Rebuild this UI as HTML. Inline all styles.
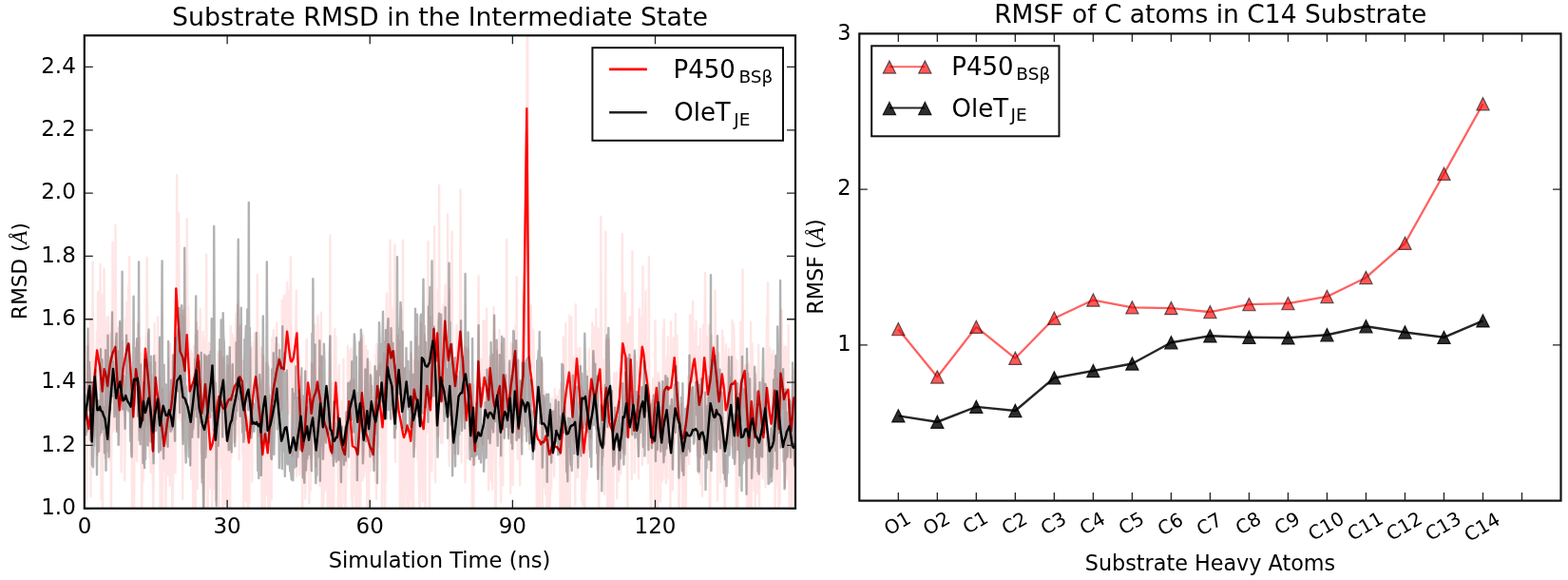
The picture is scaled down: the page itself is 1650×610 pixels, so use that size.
<!DOCTYPE html><html><head><meta charset="utf-8"><title>RMSD and RMSF plots</title><style>html,body{margin:0;padding:0;background:#fff;}svg{display:block;}</style></head><body><svg width="1650" height="610" viewBox="0 0 1650 610" font-family="'DejaVu Sans', 'Liberation Sans', sans-serif"><rect width="1650" height="610" fill="#fff"/><defs><clipPath id="cl"><rect x="88.8" y="37.3" width="748.2" height="497.40000000000003"/></clipPath><clipPath id="cr"><rect x="904.3" y="35.4" width="738.2" height="491.20000000000005"/></clipPath></defs><g clip-path="url(#cl)" fill="none" stroke-linejoin="round"><polyline points="89.0,459.6 89.5,389.9 90.0,460.9 90.5,448.6 91.0,525.7 91.5,364.2 92.0,413.5 92.5,364.4 93.0,403.4 93.5,375.3 94.0,462.8 94.5,402.3 95.0,335.0 95.5,522.1 96.0,370.8 96.5,349.6 97.0,395.4 97.5,275.5 98.0,350.5 98.5,453.6 99.0,376.1 99.5,459.3 100.0,439.9 100.5,430.5 101.0,390.0 101.5,366.7 102.0,348.7 102.5,478.7 103.0,306.6 103.5,325.7 104.0,342.5 104.5,409.3 105.0,392.8 105.5,277.8 106.0,370.9 106.5,524.8 107.0,363.8 107.5,310.3 108.0,541.9 108.5,351.6 109.0,375.7 109.5,282.4 110.0,332.5 110.5,481.6 111.0,385.3 111.5,334.0 112.0,415.0 112.5,433.2 113.0,395.2 113.5,435.0 114.0,333.2 114.5,464.7 115.0,349.3 115.5,483.6 116.0,351.1 116.5,390.6 117.0,573.3 117.5,377.2 118.0,454.5 118.5,255.0 119.0,312.4 119.5,453.4 120.0,447.8 120.5,312.3 121.0,362.2 121.5,236.9 122.0,359.6 122.6,451.9 123.1,399.0 123.6,344.4 124.1,361.1 124.6,415.8 125.1,418.1 125.6,432.2 126.1,467.3 126.6,340.1 127.1,416.9 127.6,496.2 128.1,441.1 128.6,360.9 129.1,359.7 129.6,399.8 130.1,435.8 130.6,380.9 131.1,505.3 131.6,474.9 132.1,335.6 132.6,408.4 133.1,349.1 133.6,317.5 134.1,333.3 134.6,363.8 135.1,300.5 135.6,335.0 136.1,269.9 136.6,342.1 137.1,362.5 137.6,456.5 138.1,394.6 138.6,419.3 139.1,562.7 139.6,435.1 140.1,447.1 140.6,458.9 141.1,545.6 141.6,441.3 142.1,408.7 142.6,392.8 143.1,480.3 143.6,359.4 144.1,485.3 144.6,413.6 145.1,340.0 145.6,454.2 146.1,443.4 146.6,355.4 147.1,440.9 147.6,438.5 148.1,407.3 148.6,372.2 149.1,596.2 149.6,495.1 150.1,506.7 150.6,507.0 151.1,480.3 151.6,466.0 152.1,372.9 152.6,448.5 153.1,369.6 153.6,353.7 154.1,433.7 154.6,271.0 155.1,323.5 155.6,375.9 156.1,447.9 156.6,411.2 157.1,481.3 157.6,403.7 158.1,381.8 158.6,497.0 159.1,459.6 159.6,393.9 160.1,496.2 160.6,450.0 161.1,536.2 161.6,514.5 162.1,480.8 162.6,340.4 163.1,446.7 163.6,447.8 164.1,446.1 164.6,416.6 165.1,372.6 165.6,400.0 166.1,333.5 166.6,406.1 167.1,356.4 167.6,410.4 168.1,397.3 168.6,540.3 169.1,448.5 169.6,448.4 170.1,465.3 170.6,608.8 171.1,408.6 171.6,488.4 172.1,494.9 172.6,482.8 173.1,480.5 173.6,438.1 174.1,551.1 174.6,522.6 175.1,433.6 175.6,438.5 176.1,471.8 176.6,483.5 177.1,500.2 177.6,441.7 178.1,377.1 178.6,511.1 179.1,361.7 179.6,384.9 180.1,459.0 180.6,380.8 181.1,524.6 181.6,539.3 182.1,502.3 182.6,432.1 183.1,415.9 183.6,415.5 184.1,353.5 184.6,497.3 185.1,305.5 185.6,423.2 186.1,184.2 186.6,354.4 187.1,416.4 187.6,439.8 188.1,224.4 188.6,356.0 189.2,332.2 189.7,337.7 190.2,442.6 190.7,430.1 191.2,440.6 191.7,350.5 192.2,525.1 192.7,326.1 193.2,416.6 193.7,440.7 194.2,364.6 194.7,334.5 195.2,357.8 195.7,324.4 196.2,356.8 196.7,230.1 197.2,315.7 197.7,378.2 198.2,322.2 198.7,379.9 199.2,392.4 199.7,470.8 200.2,428.2 200.7,368.2 201.2,503.5 201.7,371.7 202.2,385.0 202.7,387.4 203.2,563.1 203.7,407.9 204.2,364.0 204.7,451.4 205.2,387.5 205.7,563.5 206.2,352.5 206.7,432.4 207.2,339.5 207.7,513.7 208.2,344.8 208.7,399.4 209.2,346.8 209.7,460.9 210.2,446.1 210.7,325.1 211.2,476.9 211.7,474.1 212.2,446.7 212.7,502.6 213.2,369.1 213.7,348.9 214.2,471.0 214.7,541.3 215.2,356.2 215.7,357.2 216.2,369.0 216.7,358.8 217.2,267.6 217.7,438.0 218.2,533.0 218.7,541.8 219.2,393.6 219.7,500.1 220.2,360.4 220.7,458.2 221.2,513.3 221.7,424.8 222.2,384.8 222.7,440.0 223.2,555.2 223.7,442.7 224.2,394.3 224.7,496.3 225.2,513.9 225.7,401.0 226.2,441.9 226.7,526.9 227.2,470.1 227.7,493.6 228.2,416.9 228.7,423.7 229.2,369.9 229.7,385.0 230.2,534.8 230.7,396.1 231.2,373.2 231.7,394.1 232.2,369.7 232.7,462.4 233.2,492.8 233.7,376.9 234.2,503.5 234.7,584.5 235.2,376.0 235.7,481.2 236.2,450.8 236.7,530.3 237.2,524.4 237.7,511.5 238.2,452.8 238.7,404.4 239.2,592.8 239.7,384.5 240.2,510.2 240.7,501.1 241.2,386.1 241.7,427.5 242.2,533.5 242.7,343.0 243.2,482.3 243.7,403.6 244.2,404.9 244.7,351.3 245.2,447.3 245.7,362.7 246.2,465.2 246.7,356.0 247.2,463.9 247.7,433.2 248.2,330.2 248.7,385.5 249.2,395.7 249.7,320.1 250.2,379.0 250.7,458.0 251.2,359.7 251.7,483.2 252.2,344.6 252.7,342.4 253.2,439.7 253.7,444.6 254.2,390.0 254.7,402.2 255.2,477.6 255.8,379.2 256.3,563.9 256.8,451.1 257.3,453.6 257.8,448.7 258.3,415.2 258.8,527.5 259.3,409.4 259.8,460.0 260.3,498.7 260.8,555.3 261.3,544.8 261.8,438.1 262.3,528.5 262.8,451.0 263.3,395.0 263.8,390.8 264.3,366.1 264.8,454.4 265.3,506.8 265.8,371.6 266.3,400.2 266.8,360.0 267.3,409.8 267.8,350.8 268.3,360.6 268.8,364.4 269.3,374.1 269.8,381.0 270.3,393.2 270.8,289.2 271.3,366.8 271.8,458.2 272.3,349.9 272.8,437.9 273.3,384.7 273.8,447.9 274.3,465.8 274.8,365.4 275.3,485.1 275.8,561.1 276.3,523.1 276.8,494.9 277.3,374.4 277.8,453.7 278.3,413.1 278.8,534.6 279.3,440.6 279.8,425.3 280.3,382.0 280.8,520.0 281.3,436.1 281.8,451.5 282.3,541.3 282.8,463.2 283.3,474.3 283.8,618.4 284.3,409.4 284.8,406.9 285.3,464.4 285.8,525.4 286.3,355.8 286.8,403.0 287.3,364.1 287.8,347.2 288.3,444.9 288.8,362.3 289.3,418.5 289.8,402.8 290.3,401.9 290.8,393.2 291.3,339.8 291.8,380.7 292.3,396.9 292.8,403.4 293.3,362.4 293.8,446.2 294.3,417.8 294.8,386.1 295.3,425.3 295.8,394.1 296.3,431.2 296.8,315.7 297.3,331.0 297.8,363.1 298.3,390.6 298.8,310.9 299.3,362.5 299.8,382.3 300.3,353.0 300.8,347.0 301.3,308.1 301.8,357.1 302.3,297.0 302.8,419.9 303.3,325.9 303.8,435.6 304.3,306.2 304.8,394.7 305.3,378.3 305.8,270.5 306.3,325.4 306.8,459.8 307.3,403.6 307.8,479.5 308.3,368.2 308.8,382.0 309.3,397.5 309.8,419.0 310.3,393.5 310.8,416.2 311.3,331.6 311.8,305.5 312.3,501.0 312.8,374.7 313.3,406.1 313.8,361.3 314.3,469.7 314.8,422.7 315.3,499.0 315.8,396.0 316.3,438.2 316.8,466.2 317.3,440.1 317.8,484.7 318.3,582.2 318.8,434.3 319.3,448.0 319.8,472.8 320.3,405.0 320.8,390.1 321.3,524.5 321.8,494.3 322.4,359.1 322.9,356.6 323.4,469.1 323.9,497.3 324.4,456.1 324.9,446.8 325.4,529.3 325.9,416.3 326.4,516.2 326.9,515.1 327.4,382.1 327.9,480.5 328.4,435.6 328.9,394.2 329.4,383.3 329.9,448.0 330.4,418.0 330.9,478.3 331.4,341.7 331.9,377.9 332.4,490.7 332.9,407.3 333.4,368.4 333.9,378.6 334.4,332.3 334.9,346.1 335.4,450.1 335.9,420.7 336.4,511.1 336.9,406.0 337.4,414.8 337.9,328.8 338.4,423.7 338.9,585.0 339.4,483.8 339.9,430.4 340.4,531.4 340.9,505.4 341.4,471.1 341.9,426.4 342.4,460.7 342.9,515.5 343.4,409.8 343.9,494.0 344.4,493.1 344.9,559.3 345.4,518.0 345.9,426.0 346.4,582.7 346.9,471.8 347.4,247.1 347.9,498.2 348.4,457.7 348.9,553.1 349.4,402.4 349.9,406.2 350.4,441.9 350.9,574.9 351.4,513.9 351.9,378.6 352.4,346.1 352.9,396.9 353.4,353.8 353.9,457.2 354.4,430.7 354.9,423.4 355.4,405.8 355.9,548.2 356.4,394.1 356.9,384.0 357.4,537.6 357.9,556.5 358.4,439.8 358.9,510.3 359.4,637.5 359.9,422.2 360.4,459.0 360.9,505.3 361.4,377.7 361.9,465.6 362.4,529.1 362.9,466.3 363.4,545.1 363.9,519.9 364.4,435.4 364.9,492.3 365.4,478.6 365.9,363.7 366.4,388.6 366.9,388.2 367.4,400.6 367.9,404.8 368.4,368.4 368.9,444.8 369.4,366.7 369.9,525.7 370.4,480.3 370.9,566.4 371.4,494.0 371.9,440.9 372.4,399.6 372.9,520.9 373.4,473.0 373.9,500.4 374.4,528.9 374.9,562.6 375.4,472.5 375.9,601.4 376.4,465.5 376.9,466.7 377.4,510.1 377.9,528.8 378.4,549.0 378.9,358.8 379.4,531.8 379.9,356.7 380.4,389.6 380.9,447.0 381.4,505.1 381.9,371.3 382.4,352.4 382.9,501.0 383.4,459.5 383.9,388.7 384.4,427.4 384.9,363.6 385.4,496.4 385.9,426.6 386.4,550.9 386.9,368.8 387.4,515.9 387.9,625.2 388.4,474.8 389.0,477.3 389.5,380.7 390.0,494.9 390.5,472.6 391.0,439.3 391.5,397.3 392.0,479.4 392.5,417.9 393.0,439.5 393.5,485.4 394.0,451.5 394.5,446.5 395.0,507.1 395.5,373.0 396.0,525.3 396.5,361.7 397.0,366.3 397.5,419.4 398.0,469.4 398.5,433.5 399.0,394.3 399.5,385.3 400.0,412.0 400.5,382.3 401.0,477.7 401.5,426.9 402.0,557.4 402.5,401.4 403.0,431.0 403.5,466.0 404.0,371.9 404.5,384.8 405.0,620.5 405.5,405.6 406.0,507.3 406.5,344.5 407.0,308.7 407.5,418.2 408.0,369.6 408.5,388.2 409.0,348.2 409.5,335.3 410.0,317.5 410.5,252.8 411.0,314.6 411.5,441.8 412.0,358.2 412.5,324.3 413.0,337.6 413.5,441.2 414.0,425.6 414.5,411.0 415.0,385.2 415.5,257.4 416.0,485.8 416.5,371.2 417.0,370.0 417.5,378.0 418.0,388.1 418.5,352.2 419.0,398.0 419.5,385.3 420.0,402.6 420.5,358.3 421.0,578.7 421.5,379.7 422.0,464.1 422.5,468.1 423.0,520.8 423.5,588.9 424.0,252.8 424.5,506.9 425.0,429.1 425.5,564.9 426.0,386.8 426.5,438.5 427.0,471.2 427.5,503.1 428.0,507.7 428.5,532.4 429.0,490.1 429.5,451.4 430.0,466.8 430.5,559.3 431.0,477.8 431.5,524.5 432.0,448.7 432.5,371.2 433.0,415.8 433.5,466.8 434.0,555.0 434.5,532.1 435.0,545.3 435.5,378.9 436.0,470.3 436.5,409.5 437.0,459.5 437.5,410.4 438.0,353.9 438.5,469.6 439.0,446.3 439.5,482.2 440.0,380.1 440.5,502.3 441.0,512.4 441.5,533.2 442.0,537.0 442.5,409.7 443.0,339.9 443.5,513.8 444.0,393.8 444.5,430.7 445.0,527.3 445.5,466.5 446.0,461.0 446.5,490.4 447.0,351.9 447.5,567.1 448.0,399.8 448.5,397.2 449.0,455.4 449.5,402.6 450.0,367.7 450.5,254.0 451.0,394.5 451.5,384.6 452.0,572.6 452.5,356.6 453.0,333.0 453.5,365.0 454.0,355.1 454.5,494.9 455.0,389.0 455.6,428.1 456.1,404.3 456.6,317.7 457.1,238.0 457.6,373.0 458.1,507.3 458.6,380.6 459.1,361.1 459.6,415.5 460.1,414.8 460.6,304.6 461.1,458.8 461.6,457.1 462.1,194.9 462.6,343.4 463.1,326.1 463.6,392.0 464.1,465.8 464.6,443.4 465.1,356.3 465.6,465.9 466.1,328.2 466.6,320.3 467.1,360.1 467.6,324.8 468.1,316.8 468.6,299.9 469.1,425.4 469.6,309.4 470.1,386.6 470.6,421.0 471.1,225.5 471.6,388.3 472.1,445.9 472.6,489.9 473.1,439.7 473.6,313.9 474.1,304.9 474.6,335.3 475.1,320.5 475.6,243.7 476.1,383.2 476.6,366.2 477.1,466.2 477.6,464.4 478.1,390.8 478.6,422.6 479.1,477.3 479.6,376.3 480.1,413.7 480.6,341.7 481.1,384.2 481.6,400.4 482.1,365.5 482.6,380.4 483.1,411.2 483.6,387.4 484.1,322.0 484.6,199.4 485.1,310.6 485.6,486.4 486.1,397.5 486.6,405.5 487.1,371.9 487.6,422.5 488.1,434.8 488.6,365.4 489.1,403.2 489.6,507.3 490.1,365.7 490.6,382.0 491.1,475.9 491.6,388.7 492.1,482.0 492.6,368.0 493.1,433.7 493.6,472.1 494.1,438.8 494.6,467.9 495.1,403.3 495.6,409.4 496.1,424.2 496.6,473.6 497.1,658.4 497.6,440.3 498.1,590.9 498.6,444.4 499.1,404.7 499.6,446.8 500.1,487.8 500.6,464.7 501.1,449.6 501.6,466.9 502.1,456.3 502.6,469.9 503.1,341.9 503.6,290.3 504.1,349.3 504.6,419.9 505.1,405.9 505.6,428.9 506.1,393.8 506.6,377.7 507.1,404.7 507.6,463.8 508.1,467.3 508.6,337.1 509.1,423.5 509.6,422.6 510.1,338.2 510.6,350.7 511.1,375.3 511.6,436.2 512.1,324.5 512.6,389.9 513.1,384.8 513.6,427.5 514.1,515.4 514.6,504.1 515.1,378.7 515.6,374.7 516.1,412.2 516.6,481.4 517.1,505.2 517.6,428.1 518.1,514.5 518.6,367.0 519.1,361.2 519.6,323.0 520.1,377.5 520.6,467.4 521.1,487.8 521.6,641.9 522.1,464.5 522.7,432.0 523.2,368.6 523.7,381.9 524.2,381.0 524.7,398.3 525.2,374.8 525.7,347.0 526.2,492.1 526.7,453.0 527.2,528.3 527.7,361.4 528.2,373.2 528.7,390.4 529.2,510.4 529.7,403.9 530.2,422.7 530.7,397.3 531.2,418.1 531.7,379.3 532.2,440.4 532.7,371.4 533.2,251.7 533.7,443.8 534.2,433.3 534.7,458.3 535.2,382.9 535.7,443.1 536.2,402.1 536.7,443.3 537.2,518.5 537.7,360.6 538.2,478.6 538.7,361.9 539.2,369.8 539.7,509.9 540.2,453.9 540.7,418.4 541.2,437.2 541.7,463.0 542.2,343.0 542.7,402.6 543.2,372.2 543.7,291.5 544.2,398.8 544.7,482.8 545.2,437.8 545.7,407.6 546.2,437.9 546.7,471.0 547.2,510.4 547.7,414.7 548.2,398.9 548.7,432.2 549.2,464.2 549.7,371.2 550.2,309.1 550.7,388.6 551.2,322.5 551.7,288.9 552.2,457.0 552.7,225.7 553.2,247.4 553.7,138.8 554.2,190.1 554.7,21.0 555.2,26.0 555.7,265.7 556.2,359.5 556.7,355.3 557.2,472.2 557.7,400.9 558.2,350.4 558.7,321.1 559.2,361.5 559.7,386.9 560.2,352.5 560.7,363.0 561.2,346.7 561.7,370.6 562.2,438.3 562.7,419.9 563.2,430.0 563.7,428.4 564.2,438.7 564.7,511.6 565.2,610.7 565.7,508.1 566.2,608.1 566.7,457.2 567.2,462.4 567.7,586.1 568.2,426.6 568.7,418.8 569.2,460.2 569.7,386.9 570.2,379.7 570.7,552.7 571.2,409.5 571.7,437.4 572.2,437.8 572.7,411.6 573.2,513.1 573.7,503.2 574.2,520.3 574.7,515.9 575.2,469.5 575.7,570.4 576.2,543.6 576.7,437.1 577.2,477.9 577.7,451.9 578.2,613.2 578.7,532.6 579.2,515.0 579.7,470.8 580.2,513.8 580.7,419.2 581.2,472.1 581.7,465.8 582.2,465.4 582.7,426.8 583.2,501.0 583.7,408.9 584.2,441.1 584.7,459.0 585.2,466.5 585.7,439.8 586.2,416.6 586.7,420.5 587.2,449.8 587.7,425.2 588.2,466.3 588.7,410.2 589.3,476.3 589.8,624.3 590.3,402.8 590.8,459.3 591.3,546.0 591.8,469.2 592.3,513.5 592.8,354.6 593.3,409.1 593.8,546.3 594.3,396.4 594.8,451.3 595.3,339.9 595.8,491.1 596.3,574.6 596.8,403.0 597.3,428.8 597.8,430.2 598.3,553.9 598.8,373.8 599.3,331.8 599.8,542.7 600.3,354.4 600.8,457.4 601.3,333.4 601.8,402.6 602.3,443.7 602.8,374.9 603.3,397.3 603.8,464.4 604.3,376.8 604.8,444.8 605.3,531.2 605.8,320.3 606.3,414.0 606.8,430.3 607.3,366.7 607.8,502.3 608.3,492.6 608.8,436.8 609.3,444.8 609.8,409.0 610.3,365.7 610.8,461.7 611.3,406.2 611.8,407.8 612.3,527.6 612.8,442.0 613.3,531.4 613.8,411.4 614.3,442.9 614.8,468.2 615.3,564.6 615.8,455.4 616.3,514.0 616.8,414.6 617.3,457.5 617.8,503.2 618.3,390.7 618.8,394.9 619.3,472.2 619.8,367.5 620.3,440.6 620.8,436.4 621.3,401.3 621.8,460.3 622.3,435.7 622.8,415.0 623.3,339.4 623.8,342.6 624.3,429.2 624.8,344.1 625.3,418.5 625.8,394.5 626.3,371.1 626.8,397.6 627.3,325.3 627.8,394.9 628.3,493.6 628.8,344.9 629.3,430.4 629.8,419.5 630.3,612.7 630.8,346.8 631.3,355.3 631.8,360.4 632.3,227.8 632.8,345.4 633.3,429.2 633.8,383.2 634.3,488.5 634.8,460.0 635.3,378.4 635.8,404.5 636.3,520.0 636.8,397.4 637.3,243.7 637.8,473.9 638.3,390.5 638.8,447.5 639.3,537.4 639.8,509.6 640.3,356.4 640.8,549.0 641.3,428.8 641.8,411.1 642.3,411.7 642.8,538.1 643.3,473.6 643.8,443.0 644.3,409.2 644.8,499.7 645.3,537.0 645.8,398.5 646.3,392.2 646.8,424.4 647.3,488.1 647.8,417.6 648.3,431.9 648.8,391.7 649.3,524.4 649.8,423.4 650.3,439.4 650.8,506.0 651.3,408.6 651.8,414.5 652.3,440.7 652.8,381.2 653.3,498.7 653.8,390.4 654.3,354.6 654.8,246.0 655.3,322.5 655.9,453.3 656.4,475.9 656.9,354.5 657.4,346.6 657.9,308.5 658.4,352.2 658.9,458.4 659.4,366.9 659.9,485.6 660.4,543.7 660.9,340.7 661.4,420.3 661.9,393.7 662.4,387.9 662.9,333.0 663.4,380.5 663.9,339.6 664.4,470.4 664.9,504.0 665.4,264.2 665.9,356.4 666.4,404.4 666.9,426.9 667.4,435.0 667.9,497.3 668.4,374.1 668.9,406.8 669.4,411.4 669.9,415.1 670.4,380.5 670.9,400.5 671.4,384.2 671.9,503.2 672.4,383.1 672.9,324.6 673.4,435.5 673.9,400.3 674.4,341.9 674.9,334.2 675.4,342.0 675.9,489.1 676.4,280.0 676.9,459.3 677.4,437.0 677.9,351.9 678.4,405.9 678.9,348.4 679.4,306.3 679.9,356.2 680.4,361.7 680.9,467.7 681.4,452.8 681.9,487.3 682.4,453.0 682.9,269.9 683.4,473.3 683.9,447.0 684.4,511.8 684.9,549.3 685.4,551.6 685.9,429.9 686.4,453.5 686.9,402.2 687.4,397.5 687.9,469.9 688.4,401.9 688.9,537.3 689.4,337.3 689.9,362.8 690.4,432.1 690.9,500.3 691.4,395.0 691.9,557.1 692.4,483.4 692.9,392.2 693.4,433.5 693.9,479.8 694.4,399.3 694.9,527.7 695.4,435.2 695.9,486.2 696.4,506.9 696.9,411.8 697.4,504.0 697.9,345.7 698.4,462.1 698.9,336.3 699.4,492.4 699.9,378.4 700.4,498.4 700.9,508.5 701.4,400.8 701.9,374.4 702.4,503.1 702.9,354.4 703.4,467.8 703.9,401.3 704.4,387.4 704.9,376.6 705.4,539.0 705.9,338.5 706.4,373.3 706.9,431.4 707.4,470.9 707.9,515.4 708.4,486.7 708.9,355.3 709.4,407.8 709.9,466.7 710.4,426.0 710.9,330.0 711.4,424.3 711.9,449.8 712.4,352.6 712.9,394.9 713.4,424.8 713.9,477.8 714.4,551.8 714.9,528.3 715.4,481.6 715.9,465.8 716.4,432.1 716.9,424.7 717.4,444.5 717.9,445.6 718.4,532.4 718.9,615.1 719.4,494.1 719.9,524.0 720.4,500.2 720.9,470.1 721.4,537.7 721.9,524.2 722.5,446.1 723.0,426.6 723.5,476.6 724.0,395.8 724.5,434.7 725.0,488.1 725.5,406.7 726.0,331.4 726.5,450.8 727.0,345.2 727.5,336.7 728.0,331.4 728.5,450.2 729.0,316.9 729.5,377.7 730.0,401.0 730.5,398.6 731.0,351.5 731.5,381.7 732.0,401.6 732.5,337.6 733.0,451.1 733.5,479.4 734.0,367.5 734.5,375.8 735.0,364.2 735.5,498.5 736.0,368.7 736.5,394.7 737.0,345.9 737.5,509.2 738.0,401.9 738.5,431.0 739.0,521.7 739.5,452.0 740.0,341.9 740.5,421.7 741.0,437.1 741.5,342.4 742.0,286.9 742.5,343.6 743.0,452.5 743.5,404.4 744.0,355.7 744.5,456.4 745.0,464.9 745.5,368.1 746.0,342.1 746.5,489.9 747.0,592.0 747.5,504.5 748.0,468.3 748.5,399.7 749.0,352.8 749.5,390.0 750.0,426.0 750.5,363.4 751.0,442.3 751.5,377.1 752.0,424.2 752.5,305.5 753.0,347.3 753.5,452.9 754.0,469.6 754.5,433.8 755.0,526.7 755.5,464.9 756.0,468.8 756.5,371.5 757.0,447.2 757.5,471.4 758.0,507.4 758.5,490.9 759.0,406.2 759.5,415.1 760.0,347.1 760.5,447.1 761.0,354.4 761.5,394.5 762.0,414.7 762.5,565.6 763.0,517.3 763.5,386.4 764.0,362.3 764.5,414.5 765.0,384.9 765.5,452.5 766.0,447.3 766.5,466.2 767.0,367.2 767.5,394.0 768.0,429.4 768.5,435.0 769.0,379.7 769.5,390.3 770.0,468.7 770.5,336.8 771.0,390.9 771.5,404.3 772.0,340.7 772.5,354.0 773.0,409.9 773.5,377.1 774.0,489.6 774.5,465.9 775.0,593.9 775.5,378.9 776.0,583.3 776.5,409.7 777.0,506.5 777.5,512.4 778.0,447.6 778.5,409.9 779.0,384.9 779.5,339.0 780.0,386.0 780.5,358.7 781.0,443.1 781.5,283.5 782.0,386.5 782.5,427.7 783.0,400.9 783.5,400.6 784.0,389.0 784.5,384.1 785.0,452.5 785.5,478.2 786.0,392.9 786.5,565.6 787.0,495.7 787.5,382.5 788.0,655.9 788.5,507.7 789.1,414.3 789.6,564.3 790.1,338.6 790.6,621.0 791.1,364.0 791.6,361.1 792.1,387.9 792.6,456.9 793.1,425.1 793.6,515.9 794.1,408.9 794.6,534.0 795.1,469.5 795.6,393.0 796.1,519.0 796.6,457.5 797.1,414.5 797.6,518.1 798.1,362.6 798.6,398.8 799.1,531.7 799.6,429.0 800.1,486.7 800.6,482.6 801.1,434.4 801.6,495.4 802.1,397.8 802.6,503.2 803.1,401.8 803.6,455.4 804.1,403.2 804.6,482.6 805.1,472.7 805.6,512.6 806.1,389.9 806.6,369.9 807.1,333.3 807.6,355.2 808.1,297.1 808.6,436.6 809.1,403.0 809.6,431.6 810.1,366.0 810.6,388.9 811.1,500.9 811.6,490.3 812.1,373.5 812.6,417.2 813.1,447.6 813.6,368.6 814.1,449.4 814.6,438.3 815.1,450.0 815.6,559.9 816.1,374.7 816.6,511.3 817.1,469.1 817.6,486.4 818.1,397.4 818.6,446.2 819.1,441.4 819.6,562.0 820.1,438.7 820.6,529.6 821.1,393.5 821.6,383.1 822.1,401.9 822.6,325.6 823.1,376.4 823.6,377.0 824.1,404.1 824.6,429.5 825.1,368.9 825.6,364.4 826.1,512.3 826.6,364.7 827.1,386.5 827.6,366.1 828.1,386.5 828.6,503.2 829.1,499.6 829.6,342.1 830.1,407.4 830.6,532.5 831.1,416.1 831.6,468.6 832.1,579.6 832.6,612.5 833.1,559.9 833.6,421.7 834.1,435.3 834.6,445.1 835.1,407.0 835.6,389.3 836.1,575.4 836.6,445.1 837.1,484.5 837.6,514.7" stroke="#ff0000" stroke-opacity="0.1" stroke-width="2.4"/>
<polyline points="88.0,422.3 89.0,428.9 90.0,433.7 91.3,437.9 92.0,442.0 93.4,451.1 95.0,437.5 96.0,428.9 97.0,420.0 98.0,409.8 99.0,400.5 100.0,391.0 101.0,380.3 102.1,368.4 103.0,373.8 104.0,379.9 105.1,385.5 106.0,394.6 107.0,403.9 107.8,411.5 109.6,388.2 111.0,392.6 112.0,397.9 113.2,406.0 114.0,398.1 115.0,389.2 116.0,382.5 117.0,377.7 117.7,374.7 119.0,370.1 120.0,368.4 121.3,364.8 122.0,376.4 123.0,393.5 124.1,411.6 125.0,422.2 125.9,431.3 127.0,419.1 128.0,406.4 129.5,388.0 131.0,380.3 132.2,373.8 133.0,370.5 134.0,364.9 135.2,361.2 136.0,369.7 137.0,381.6 138.0,397.1 138.8,408.4 140.3,438.5 141.0,426.6 142.0,408.9 143.0,388.2 144.0,395.0 145.0,400.1 146.0,404.6 147.0,410.0 148.0,419.6 149.0,429.0 150.2,442.1 151.0,419.7 152.0,392.0 152.9,366.6 154.0,378.0 155.0,388.2 156.0,398.8 156.9,408.4 158.0,426.5 159.0,442.9 160.0,459.1 161.0,474.5 162.0,447.1 163.0,418.0 163.7,397.0 165.0,409.8 166.0,416.6 167.3,424.0 168.0,430.2 169.0,438.8 170.0,446.5 171.0,454.5 172.0,463.1 172.7,469.1 174.0,459.8 175.0,451.9 176.3,442.1 177.0,438.5 178.0,434.6 179.0,433.2 179.9,429.5 181.0,420.7 182.0,409.6 183.5,395.2 185.3,303.5 186.0,315.5 187.0,331.5 188.0,345.6 189.6,370.0 191.0,372.7 192.5,376.5 194.5,390.0 196.0,364.2 196.7,352.2 198.0,376.6 199.0,395.4 199.8,411.5 201.0,407.4 202.0,405.4 203.0,402.6 204.0,400.0 205.0,395.2 206.0,391.5 207.0,385.4 208.4,373.8 210.0,397.9 211.0,413.6 212.4,434.9 214.0,424.3 215.0,413.6 216.0,404.2 217.0,416.3 218.0,428.4 219.0,441.1 220.0,454.6 221.4,472.7 223.0,468.9 224.0,464.9 225.0,460.1 226.0,452.0 227.0,441.9 228.0,432.4 229.0,425.0 230.4,416.9 232.0,420.8 233.0,424.5 234.0,428.1 235.0,429.6 235.8,429.5 237.0,429.8 238.0,427.0 239.0,423.9 240.0,421.7 241.0,420.0 242.0,419.8 243.0,420.5 244.0,416.8 245.0,413.5 246.0,409.6 247.0,406.2 248.0,404.6 249.0,403.7 250.0,401.4 251.1,397.0 252.5,396.3 254.0,399.8 254.7,400.6 256.0,417.1 257.0,427.5 258.0,434.6 259.2,442.1 260.0,449.8 261.0,458.7 261.9,465.5 263.0,454.0 264.0,442.0 265.5,424.1 267.0,410.4 268.0,403.1 269.1,396.3 270.0,404.0 271.0,413.9 272.0,424.2 273.0,433.0 273.7,438.5 275.0,459.2 276.3,478.1 277.0,472.2 278.0,463.9 279.0,456.5 280.0,463.9 281.0,471.3 281.7,476.3 283.0,458.4 284.4,440.3 285.0,434.3 286.0,424.0 287.0,415.8 288.0,407.9 289.0,401.7 289.8,398.1 291.0,390.4 292.0,386.0 293.0,382.2 293.8,378.3 295.0,381.9 296.1,387.3 297.0,386.8 298.0,387.6 298.8,388.2 300.0,373.6 301.0,361.4 302.1,348.6 303.0,356.1 304.0,365.7 305.0,373.5 306.0,380.1 307.0,380.2 308.0,378.4 308.8,376.5 310.0,368.3 311.0,360.7 312.4,350.4 313.0,366.1 314.2,398.1 315.1,418.7 316.0,438.1 317.0,459.5 317.8,474.5 319.0,468.5 320.5,458.3 322.0,434.7 323.0,418.6 324.1,402.4 325.0,408.5 326.0,416.1 327.0,426.9 327.7,434.9 329.0,423.8 330.0,418.4 331.0,415.5 332.0,413.2 333.0,408.7 334.0,401.5 335.0,409.0 336.0,414.2 337.0,421.0 337.6,425.9 339.0,432.6 340.0,438.0 341.2,443.9 342.0,446.8 343.0,449.1 344.0,452.2 345.0,456.8 346.0,462.1 347.0,467.8 348.0,473.2 349.3,476.3 350.0,464.6 351.0,447.5 352.0,429.0 353.3,402.4 354.0,412.9 355.0,427.3 356.0,441.2 357.4,456.5 358.0,460.1 359.0,464.9 360.0,469.0 361.0,473.3 362.0,475.9 362.8,478.1 364.0,463.8 365.0,450.9 366.0,438.1 367.3,422.3 368.0,431.3 369.0,444.8 370.0,457.5 370.9,469.1 372.0,469.9 373.0,470.1 374.0,471.0 375.0,473.9 376.3,478.1 377.0,468.6 378.0,455.2 379.0,441.0 380.0,426.6 380.9,413.3 382.0,425.2 383.0,435.2 384.0,444.0 385.4,456.5 386.0,458.0 387.0,461.2 388.0,465.5 389.0,468.7 390.0,471.0 391.0,473.3 392.0,476.2 392.6,478.1 394.0,454.7 395.0,438.4 396.0,422.8 397.1,406.0 398.0,412.2 399.0,418.7 400.0,426.9 401.0,435.7 402.5,449.3 404.0,428.7 405.0,417.2 406.0,404.4 407.0,389.1 408.0,373.3 408.8,362.1 410.0,366.8 411.5,376.5 413.0,370.3 413.7,369.3 415.0,382.3 416.0,391.0 417.0,404.0 418.0,417.1 419.0,427.2 419.6,433.1 421.0,439.4 422.0,444.4 423.0,450.4 424.0,455.7 425.0,460.1 426.0,457.1 427.0,455.6 428.0,451.0 428.6,447.5 430.0,452.1 431.0,456.1 432.2,463.7 433.0,451.9 434.0,439.0 435.0,423.7 435.8,409.7 437.0,416.5 438.0,419.6 439.0,422.4 440.0,425.0 441.0,431.3 442.0,436.5 443.0,440.7 444.0,445.1 445.0,448.3 445.7,451.1 447.0,433.1 448.0,419.5 449.3,406.0 450.0,409.3 451.0,416.8 452.0,425.5 452.9,431.3 454.0,406.5 455.0,382.4 456.5,345.9 458.5,380.0 460.1,350.4 461.0,370.2 462.5,400.0 464.0,417.9 464.6,422.3 466.0,388.4 467.0,363.9 468.2,337.8 469.0,347.2 470.0,359.5 471.0,370.1 471.8,379.0 473.0,370.3 474.5,362.1 476.0,376.5 477.0,387.0 478.0,396.8 479.0,406.0 480.0,395.9 481.0,385.9 482.0,375.5 483.0,364.2 484.4,348.6 485.0,356.0 486.0,369.1 487.1,380.8 488.0,396.9 489.0,413.0 490.0,428.5 490.8,442.1 492.0,429.2 493.0,419.1 494.4,404.2 495.0,411.4 496.0,423.6 497.0,437.5 498.0,450.6 499.0,463.3 499.8,474.5 501.0,442.4 502.0,416.7 503.4,380.1 504.0,391.4 505.0,410.4 506.1,427.7 507.0,421.0 508.0,412.2 509.0,403.0 509.7,397.0 511.0,403.1 512.0,407.8 513.0,413.6 514.2,420.5 515.0,401.8 515.6,387.3 517.0,400.2 518.0,410.1 519.0,419.3 520.5,427.7 522.0,424.0 523.0,418.3 524.0,413.5 525.0,409.7 525.9,406.0 527.0,423.9 528.0,440.2 528.6,451.1 529.8,394.5 531.0,400.8 532.0,407.1 533.0,414.6 534.0,423.5 534.9,431.3 536.0,420.4 537.0,412.0 537.6,406.0 539.0,396.2 540.0,387.4 541.0,378.1 542.1,369.3 543.0,388.7 544.0,411.5 545.0,435.3 545.7,451.1 547.0,432.8 548.0,420.0 549.0,408.2 550.5,395.0 552.0,282.6 553.0,208.7 554.3,114.3 555.0,197.1 556.5,373.6 558.0,389.2 559.0,396.5 560.1,406.0 561.0,415.8 562.0,427.3 563.0,439.7 564.0,450.9 564.6,456.5 566.0,461.9 567.0,462.7 568.0,463.6 569.2,467.3 570.0,465.1 571.0,464.8 572.0,465.3 573.0,463.6 574.0,459.6 574.6,458.3 576.0,464.1 577.0,471.3 578.2,478.1 579.0,476.2 580.0,473.0 581.0,468.8 582.0,465.0 583.0,467.2 584.0,469.9 585.0,470.1 586.0,470.0 587.0,471.5 588.0,472.4 589.0,474.6 589.9,476.3 591.0,463.5 592.0,451.2 593.0,438.3 594.4,424.1 595.0,418.5 596.0,410.2 597.0,403.8 598.0,397.6 598.9,391.6 600.0,405.7 601.0,418.4 602.5,438.5 604.0,418.4 605.0,405.4 606.0,391.2 607.0,377.2 608.0,389.9 609.0,404.0 610.0,416.8 610.6,424.1 612.0,443.4 613.0,456.9 614.2,476.3 615.0,468.3 616.0,460.2 616.9,452.9 618.0,442.2 619.0,433.2 620.0,423.9 621.0,413.7 622.3,398.8 623.0,403.2 624.0,409.1 625.0,414.7 626.0,420.0 627.0,414.4 628.0,408.3 629.0,402.2 630.0,395.6 631.3,388.5 632.0,401.4 633.0,421.8 634.1,442.1 635.0,436.0 636.0,426.3 637.0,415.6 638.0,408.0 639.0,417.6 640.0,429.7 641.2,443.9 642.0,446.8 643.0,449.7 644.0,451.7 645.0,455.0 646.0,448.4 647.0,443.7 648.4,438.5 649.0,435.7 650.0,431.4 651.0,424.6 652.0,418.7 653.0,399.9 654.0,381.9 655.3,361.2 656.0,364.1 657.0,370.4 658.3,374.7 659.0,398.2 660.0,429.7 661.0,460.1 662.0,430.6 663.0,400.1 663.7,378.3 665.0,406.5 666.0,426.3 667.3,452.9 668.0,448.6 669.0,443.5 670.0,437.1 671.0,430.0 672.0,415.9 673.0,400.5 674.0,386.4 675.0,374.2 675.8,364.8 677.0,370.5 678.0,378.3 679.1,389.8 680.0,394.6 681.0,402.0 682.0,410.6 682.7,415.1 684.0,435.7 685.0,449.1 686.3,465.5 687.0,456.0 688.0,441.8 689.0,429.4 690.0,417.8 690.8,407.9 692.0,422.4 693.0,433.5 694.0,444.7 695.3,460.1 696.0,451.4 697.0,438.0 698.0,423.3 698.9,411.5 700.0,409.1 701.0,407.6 702.0,406.7 703.4,409.7 704.0,407.7 705.0,408.1 706.1,407.9 707.0,401.3 708.0,392.7 709.0,382.8 709.7,376.2 711.0,395.7 712.0,409.7 713.0,422.5 714.2,438.5 715.0,443.7 716.0,451.1 717.0,458.1 717.8,461.9 719.0,460.0 720.0,456.4 721.4,449.3 722.0,444.1 723.0,435.8 724.0,426.0 725.0,415.2 725.9,404.2 727.0,400.8 728.0,393.9 729.0,385.8 730.0,380.6 730.8,377.4 732.0,388.1 733.0,397.1 734.0,406.3 735.0,417.1 735.8,425.9 737.0,420.0 738.5,413.3 740.0,392.3 741.2,376.2 742.0,384.5 743.0,394.3 744.0,405.1 744.9,415.1 746.0,409.2 747.5,400.0 749.0,384.6 750.0,374.0 750.8,365.7 752.0,377.4 753.0,386.8 754.0,396.4 755.0,407.2 756.0,417.3 756.6,422.3 758.0,411.9 759.0,401.3 759.8,393.4 761.0,402.1 762.0,409.5 763.0,422.1 763.8,431.3 765.0,427.9 766.0,423.6 767.4,413.3 768.0,411.3 769.0,405.3 770.0,403.6 771.0,403.9 772.0,403.2 773.0,401.7 773.7,400.6 775.0,428.5 776.4,458.3 777.0,449.7 778.0,433.8 779.0,417.9 780.0,403.3 781.0,399.2 782.0,395.4 783.0,392.1 783.6,390.0 785.0,414.3 786.0,431.0 787.0,448.2 788.1,469.1 789.0,451.7 790.0,434.9 790.8,422.3 792.0,434.6 793.0,445.7 794.4,460.1 795.0,452.2 796.0,439.3 797.0,426.5 798.0,411.5 799.0,421.1 800.0,428.7 801.0,437.1 802.0,446.7 803.4,460.1 804.0,452.2 805.0,439.0 806.0,423.4 807.0,407.9 808.0,417.3 809.0,426.7 810.0,435.0 811.5,445.7 813.0,434.2 814.0,425.0 815.2,410.6 816.0,419.4 817.0,429.3 818.0,436.9 819.0,444.6 819.7,451.1 821.5,392.7 823.0,403.2 824.0,411.6 825.0,420.0 826.0,416.4 827.0,413.5 828.0,412.1 829.3,409.7 830.0,420.1 831.0,435.6 832.3,454.0 833.0,446.8 834.0,435.8 835.2,418.5 836.0,421.5 837.0,425.0" stroke="#ff0000" stroke-width="2.4"/>
<polyline points="89.0,438.7 89.5,415.6 90.0,442.3 90.5,457.4 91.0,441.1 91.5,453.9 92.0,416.5 92.5,345.6 93.0,429.1 93.5,431.0 94.0,381.0 94.5,393.1 95.0,417.3 95.5,463.3 96.0,445.7 96.5,403.9 97.0,489.3 97.5,457.9 98.0,491.3 98.5,461.7 99.0,469.0 99.5,415.5 100.0,444.3 100.5,389.0 101.0,401.9 101.5,425.0 102.0,499.3 102.5,443.6 103.0,430.8 103.5,421.4 104.0,474.8 104.5,443.0 105.0,457.9 105.5,453.1 106.0,367.2 106.5,454.7 107.0,432.6 107.5,378.2 108.0,451.3 108.5,438.4 109.0,428.2 109.5,433.0 110.0,476.2 110.5,436.4 111.0,368.2 111.5,494.7 112.0,398.2 112.5,446.3 113.0,474.9 113.5,352.7 114.0,401.4 114.5,480.6 115.0,432.9 115.5,394.0 116.0,431.3 116.5,376.0 117.0,414.9 117.5,364.8 118.0,328.5 118.5,416.6 119.0,380.3 119.5,409.1 120.0,388.8 120.5,438.3 121.0,424.9 121.5,417.3 122.0,360.4 122.6,350.8 123.1,454.1 123.6,436.6 124.1,369.8 124.6,468.0 125.1,420.3 125.6,407.9 126.1,337.9 126.6,362.5 127.1,416.7 127.6,420.7 128.1,420.2 128.6,285.8 129.1,430.5 129.6,428.1 130.1,395.2 130.6,422.9 131.1,424.2 131.6,450.8 132.1,417.6 132.6,430.7 133.1,352.6 133.6,377.3 134.1,420.8 134.6,378.5 135.1,432.4 135.6,362.1 136.1,424.5 136.6,387.3 137.1,464.1 137.6,400.6 138.1,473.1 138.6,480.6 139.1,424.9 139.6,438.7 140.1,396.0 140.6,311.6 141.1,426.6 141.6,418.5 142.1,384.2 142.6,366.4 143.1,403.6 143.6,404.4 144.1,356.2 144.6,368.4 145.1,437.8 145.6,416.0 146.1,275.5 146.6,462.9 147.1,419.3 147.6,467.2 148.1,383.4 148.6,427.2 149.1,430.7 149.6,451.3 150.1,433.4 150.6,487.1 151.1,460.3 151.6,401.9 152.1,491.9 152.6,377.9 153.1,482.9 153.6,382.7 154.1,454.1 154.6,378.2 155.1,415.1 155.6,468.6 156.1,353.0 156.6,346.4 157.1,426.5 157.6,435.7 158.1,436.3 158.6,464.6 159.1,374.7 159.6,459.7 160.1,448.8 160.6,473.1 161.1,468.7 161.6,487.3 162.1,374.2 162.6,447.8 163.1,380.9 163.6,435.0 164.1,453.1 164.6,438.6 165.1,442.8 165.6,424.6 166.1,437.5 166.6,438.3 167.1,475.5 167.6,463.0 168.1,354.6 168.6,462.7 169.1,473.4 169.6,415.8 170.1,359.2 170.6,274.4 171.1,437.5 171.6,448.8 172.1,482.2 172.6,383.7 173.1,432.4 173.6,428.1 174.1,457.0 174.6,404.4 175.1,451.5 175.6,439.3 176.1,467.3 176.6,469.8 177.1,358.9 177.6,447.8 178.1,412.7 178.6,435.4 179.1,449.4 179.6,453.8 180.1,399.8 180.6,452.4 181.1,448.9 181.6,442.2 182.1,373.4 182.6,394.3 183.1,406.8 183.6,444.6 184.1,463.7 184.6,361.3 185.1,355.8 185.6,411.5 186.1,368.9 186.6,354.3 187.1,350.5 187.6,345.8 188.1,411.3 188.6,324.0 189.2,434.1 189.7,347.8 190.2,367.7 190.7,351.6 191.2,321.2 191.7,335.3 192.2,448.0 192.7,466.9 193.2,368.7 193.7,450.1 194.2,260.8 194.7,370.5 195.2,471.5 195.7,486.6 196.2,406.8 196.7,423.4 197.2,436.0 197.7,427.9 198.2,458.7 198.7,480.3 199.2,442.3 199.7,468.4 200.2,489.4 200.7,406.0 201.2,439.9 201.7,407.1 202.2,459.9 202.7,445.5 203.2,451.1 203.7,443.1 204.2,398.1 204.7,430.8 205.2,378.8 205.7,375.6 206.2,311.5 206.7,438.3 207.2,347.9 207.7,406.3 208.2,410.4 208.7,459.7 209.2,435.7 209.7,380.2 210.2,433.0 210.7,427.6 211.2,444.4 211.7,370.9 212.2,440.5 212.7,507.6 213.2,464.7 213.7,504.9 214.2,545.1 214.7,464.8 215.2,373.3 215.7,444.6 216.2,481.3 216.7,471.7 217.2,374.9 217.7,427.0 218.2,431.7 218.7,433.3 219.2,424.7 219.7,373.6 220.2,382.0 220.7,397.6 221.2,438.9 221.7,369.7 222.2,418.0 222.7,335.3 223.2,431.5 223.7,400.8 224.2,403.3 224.7,452.5 225.2,238.0 225.7,357.8 226.2,459.9 226.7,402.7 227.2,428.4 227.7,532.0 228.2,432.3 228.7,447.4 229.2,435.0 229.7,468.7 230.2,440.1 230.7,433.1 231.2,357.3 231.7,397.1 232.2,416.8 232.7,336.4 233.2,426.8 233.7,418.7 234.2,459.6 234.7,329.3 235.2,353.1 235.7,359.5 236.2,378.1 236.7,420.1 237.2,420.6 237.7,451.3 238.2,456.8 238.7,451.6 239.2,374.5 239.7,422.2 240.2,460.0 240.7,473.4 241.2,472.8 241.7,365.2 242.2,415.4 242.7,442.3 243.2,455.3 243.7,475.5 244.2,441.8 244.7,383.3 245.2,445.6 245.7,437.6 246.2,434.4 246.7,416.7 247.2,469.2 247.7,425.6 248.2,441.0 248.7,360.2 249.2,432.3 249.7,369.6 250.2,328.9 250.7,251.7 251.2,419.7 251.7,389.2 252.2,405.0 252.7,437.7 253.2,380.8 253.7,323.6 254.2,425.1 254.7,426.5 255.2,454.8 255.8,404.1 256.3,464.8 256.8,461.1 257.3,356.9 257.8,452.8 258.3,361.6 258.8,343.0 259.3,401.0 259.8,381.2 260.3,325.5 260.8,419.3 261.3,431.2 261.8,213.0 262.3,414.5 262.8,344.8 263.3,369.3 263.8,458.6 264.3,460.4 264.8,453.8 265.3,421.3 265.8,449.9 266.3,429.7 266.8,424.4 267.3,453.9 267.8,446.0 268.3,429.8 268.8,446.9 269.3,410.6 269.8,349.9 270.3,405.4 270.8,440.2 271.3,494.9 271.8,418.2 272.3,503.1 272.8,487.7 273.3,394.0 273.8,403.3 274.3,453.7 274.8,499.9 275.3,458.4 275.8,464.2 276.3,398.5 276.8,332.5 277.3,415.9 277.8,450.4 278.3,459.1 278.8,425.0 279.3,430.0 279.8,462.7 280.3,425.6 280.8,275.5 281.3,380.0 281.8,385.3 282.3,385.9 282.8,464.8 283.3,415.3 283.8,452.4 284.3,458.4 284.8,455.1 285.3,481.2 285.8,482.9 286.3,388.5 286.8,441.1 287.3,417.6 287.8,371.3 288.3,477.9 288.8,447.3 289.3,408.8 289.8,391.8 290.3,426.0 290.8,355.2 291.3,399.3 291.8,451.4 292.3,447.1 292.8,376.7 293.3,400.8 293.8,492.0 294.3,368.1 294.8,409.7 295.3,377.8 295.8,468.7 296.3,468.5 296.8,493.0 297.3,343.2 297.8,464.1 298.3,371.3 298.8,474.8 299.3,443.3 299.8,500.9 300.3,463.2 300.8,392.0 301.3,487.2 301.8,389.4 302.3,432.4 302.8,488.4 303.3,477.0 303.8,479.5 304.3,471.3 304.8,486.9 305.3,495.8 305.8,480.9 306.3,499.3 306.8,504.4 307.3,467.9 307.8,409.0 308.3,505.3 308.8,462.7 309.3,481.5 309.8,492.0 310.3,413.8 310.8,483.6 311.3,385.5 311.8,490.4 312.3,440.5 312.8,470.1 313.3,480.8 313.8,418.0 314.3,457.3 314.8,410.1 315.3,447.2 315.8,472.6 316.3,445.2 316.8,439.2 317.3,387.2 317.8,473.1 318.3,454.2 318.8,502.6 319.3,416.5 319.8,488.8 320.3,507.8 320.8,460.0 321.3,390.5 321.8,494.6 322.4,481.2 322.9,471.6 323.4,482.5 323.9,428.4 324.4,478.1 324.9,477.5 325.4,420.1 325.9,477.6 326.4,425.6 326.9,478.0 327.4,481.5 327.9,495.2 328.4,350.8 328.9,452.4 329.4,293.3 329.9,448.2 330.4,439.9 330.9,452.5 331.4,362.5 331.9,492.5 332.4,508.3 332.9,493.7 333.4,500.1 333.9,412.6 334.4,403.3 334.9,474.7 335.4,480.5 335.9,447.3 336.4,358.2 336.9,505.7 337.4,396.0 337.9,460.5 338.4,374.6 338.9,468.7 339.4,450.1 339.9,482.9 340.4,467.2 340.9,361.8 341.4,381.3 341.9,436.1 342.4,442.6 342.9,465.5 343.4,423.8 343.9,414.6 344.4,418.7 344.9,424.1 345.4,457.0 345.9,434.7 346.4,439.6 346.9,371.0 347.4,353.5 347.9,455.0 348.4,474.4 348.9,457.7 349.4,473.8 349.9,479.2 350.4,462.5 350.9,489.7 351.4,422.7 351.9,465.5 352.4,444.8 352.9,466.8 353.4,480.7 353.9,485.8 354.4,465.6 354.9,471.8 355.4,438.1 355.9,451.4 356.4,483.8 356.9,440.6 357.4,480.5 357.9,462.1 358.4,455.9 358.9,507.0 359.4,449.2 359.9,448.9 360.4,466.7 360.9,475.3 361.4,474.1 361.9,489.0 362.4,467.8 362.9,472.6 363.4,448.6 363.9,484.5 364.4,433.3 364.9,436.9 365.4,448.2 365.9,453.4 366.4,403.0 366.9,480.6 367.4,403.1 367.9,414.3 368.4,409.2 368.9,400.7 369.4,441.7 369.9,429.2 370.4,380.1 370.9,389.6 371.4,401.5 371.9,454.6 372.4,379.8 372.9,351.5 373.4,360.3 373.9,405.6 374.4,467.9 374.9,375.3 375.4,439.3 375.9,505.1 376.4,413.2 376.9,477.6 377.4,470.0 377.9,448.8 378.4,359.9 378.9,439.3 379.4,412.1 379.9,346.6 380.4,355.8 380.9,447.1 381.4,456.0 381.9,487.4 382.4,474.8 382.9,428.0 383.4,428.5 383.9,444.3 384.4,388.4 384.9,464.2 385.4,441.5 385.9,392.4 386.4,400.5 386.9,377.8 387.4,415.9 387.9,452.6 388.4,419.3 389.0,468.0 389.5,480.2 390.0,394.4 390.5,430.0 391.0,405.6 391.5,471.6 392.0,437.5 392.5,446.2 393.0,455.6 393.5,494.9 394.0,446.3 394.5,385.3 395.0,414.7 395.5,456.5 396.0,440.0 396.5,390.4 397.0,508.0 397.5,435.3 398.0,394.0 398.5,383.5 399.0,339.3 399.5,356.3 400.0,394.3 400.5,391.0 401.0,362.1 401.5,422.4 402.0,410.2 402.5,359.5 403.0,327.6 403.5,426.3 404.0,428.7 404.5,417.0 405.0,358.7 405.5,429.8 406.0,347.3 406.5,440.4 407.0,410.0 407.5,403.1 408.0,347.7 408.5,335.2 409.0,431.0 409.5,417.4 410.0,373.0 410.5,415.0 411.0,440.2 411.5,345.2 412.0,373.6 412.5,377.5 413.0,426.5 413.5,360.9 414.0,432.1 414.5,369.2 415.0,460.2 415.5,460.2 416.0,421.9 416.5,451.1 417.0,383.7 417.5,400.9 418.0,270.3 418.5,399.3 419.0,408.9 419.5,345.9 420.0,414.3 420.5,412.1 421.0,342.1 421.5,318.0 422.0,327.7 422.5,418.8 423.0,411.1 423.5,348.6 424.0,430.0 424.5,449.8 425.0,412.1 425.5,387.4 426.0,435.4 426.5,453.6 427.0,445.5 427.5,365.9 428.0,427.6 428.5,413.7 429.0,399.4 429.5,379.9 430.0,430.5 430.5,390.6 431.0,446.4 431.5,431.6 432.0,448.7 432.5,359.4 433.0,425.8 433.5,448.8 434.0,442.9 434.5,442.3 435.0,394.0 435.5,480.4 436.0,464.2 436.5,444.3 437.0,324.6 437.5,373.4 438.0,430.1 438.5,381.1 439.0,330.7 439.5,431.8 440.0,437.8 440.5,364.7 441.0,404.9 441.5,395.7 442.0,447.4 442.5,334.4 443.0,330.6 443.5,362.5 444.0,346.9 444.5,434.6 445.0,341.5 445.5,293.7 446.0,353.7 446.5,342.6 447.0,392.1 447.5,428.4 448.0,360.0 448.5,403.4 449.0,392.2 449.5,399.1 450.0,391.8 450.5,443.7 451.0,322.5 451.5,364.1 452.0,323.9 452.5,301.9 453.0,373.2 453.5,419.4 454.0,392.1 454.5,274.4 455.0,376.5 455.6,357.0 456.1,416.4 456.6,343.8 457.1,411.5 457.6,360.1 458.1,392.9 458.6,410.9 459.1,419.1 459.6,442.1 460.1,450.3 460.6,480.7 461.1,434.5 461.6,338.5 462.1,329.6 462.6,344.1 463.1,364.7 463.6,421.3 464.1,330.6 464.6,402.5 465.1,404.3 465.6,412.2 466.1,400.0 466.6,420.3 467.1,413.5 467.6,443.0 468.1,427.3 468.6,323.1 469.1,426.6 469.6,434.9 470.1,397.1 470.6,388.5 471.1,460.8 471.6,433.5 472.1,369.0 472.6,276.7 473.1,406.5 473.6,338.7 474.1,437.1 474.6,419.6 475.1,446.9 475.6,361.7 476.1,500.2 476.6,472.0 477.1,471.6 477.6,416.0 478.1,417.7 478.6,376.0 479.1,490.3 479.6,397.4 480.1,447.3 480.6,452.7 481.1,395.8 481.6,450.4 482.1,477.4 482.6,429.2 483.1,457.0 483.6,433.1 484.1,390.8 484.6,393.9 485.1,337.2 485.6,418.9 486.1,452.9 486.6,430.6 487.1,432.8 487.6,438.1 488.1,375.1 488.6,417.5 489.1,450.6 489.6,288.0 490.1,400.4 490.6,375.5 491.1,394.0 491.6,366.4 492.1,406.5 492.6,349.5 493.1,393.5 493.6,402.9 494.1,410.4 494.6,483.2 495.1,453.0 495.6,456.8 496.1,433.8 496.6,479.9 497.1,355.9 497.6,430.0 498.1,471.1 498.6,489.0 499.1,457.4 499.6,458.8 500.1,479.5 500.6,455.6 501.1,478.6 501.6,424.0 502.1,477.8 502.6,458.3 503.1,397.9 503.6,342.2 504.1,482.6 504.6,468.7 505.1,479.2 505.6,408.2 506.1,486.5 506.6,467.3 507.1,452.9 507.6,475.1 508.1,471.5 508.6,455.7 509.1,495.8 509.6,475.5 510.1,446.1 510.6,423.5 511.1,438.7 511.6,481.5 512.1,448.2 512.6,388.8 513.1,402.2 513.6,440.0 514.1,461.1 514.6,397.1 515.1,451.2 515.6,466.3 516.1,456.4 516.6,360.0 517.1,420.8 517.6,372.4 518.1,450.5 518.6,383.6 519.1,454.5 519.6,441.8 520.1,331.7 520.6,387.0 521.1,443.1 521.6,428.7 522.1,401.6 522.7,357.8 523.2,434.1 523.7,468.8 524.2,433.8 524.7,430.5 525.2,429.5 525.7,373.3 526.2,426.1 526.7,401.9 527.2,479.3 527.7,400.4 528.2,353.9 528.7,401.1 529.2,427.1 529.7,430.9 530.2,356.2 530.7,460.8 531.2,438.6 531.7,408.0 532.2,394.4 532.7,448.9 533.2,420.1 533.7,446.1 534.2,430.2 534.7,438.9 535.2,461.3 535.7,428.2 536.2,379.5 536.7,450.1 537.2,433.6 537.7,395.5 538.2,465.7 538.7,432.3 539.2,472.1 539.7,387.5 540.2,347.9 540.7,349.5 541.2,430.3 541.7,382.6 542.2,412.2 542.7,414.7 543.2,358.1 543.7,463.0 544.2,383.8 544.7,440.7 545.2,378.8 545.7,433.3 546.2,460.4 546.7,426.1 547.2,400.5 547.7,431.3 548.2,404.1 548.7,439.3 549.2,477.5 549.7,381.5 550.2,389.9 550.7,417.3 551.2,423.4 551.7,382.1 552.2,441.6 552.7,448.5 553.2,435.8 553.7,379.3 554.2,463.7 554.7,377.3 555.2,442.5 555.7,453.8 556.2,375.6 556.7,433.1 557.2,466.4 557.7,448.7 558.2,403.9 558.7,399.7 559.2,466.1 559.7,441.4 560.2,432.6 560.7,482.9 561.2,450.1 561.7,465.2 562.2,472.6 562.7,465.4 563.2,444.1 563.7,439.8 564.2,448.7 564.7,439.2 565.2,379.2 565.7,407.8 566.2,379.4 566.7,369.2 567.2,391.4 567.7,348.9 568.2,445.2 568.7,398.3 569.2,443.6 569.7,376.3 570.2,383.4 570.7,491.8 571.2,469.6 571.7,420.2 572.2,416.3 572.7,418.7 573.2,449.9 573.7,430.2 574.2,424.0 574.7,452.8 575.2,414.7 575.7,506.9 576.2,429.5 576.7,476.7 577.2,414.6 577.7,450.3 578.2,461.4 578.7,424.7 579.2,461.3 579.7,465.1 580.2,486.6 580.7,459.2 581.2,446.2 581.7,432.6 582.2,473.8 582.7,432.8 583.2,466.2 583.7,465.8 584.2,439.1 584.7,420.7 585.2,464.0 585.7,460.9 586.2,459.0 586.7,453.0 587.2,478.4 587.7,422.6 588.2,468.8 588.7,441.9 589.3,477.2 589.8,442.1 590.3,437.7 590.8,458.5 591.3,382.9 591.8,427.6 592.3,383.8 592.8,405.6 593.3,455.1 593.8,450.7 594.3,428.5 594.8,445.4 595.3,448.8 595.8,459.6 596.3,496.3 596.8,460.1 597.3,506.2 597.8,439.8 598.3,469.9 598.8,468.8 599.3,456.5 599.8,440.1 600.3,483.0 600.8,489.5 601.3,472.9 601.8,494.9 602.3,469.3 602.8,394.7 603.3,470.4 603.8,421.5 604.3,476.9 604.8,434.7 605.3,456.0 605.8,453.7 606.3,436.4 606.8,406.7 607.3,460.7 607.8,465.2 608.3,491.8 608.8,444.2 609.3,465.6 609.8,423.4 610.3,447.7 610.8,385.1 611.3,479.5 611.8,434.7 612.3,392.8 612.8,428.5 613.3,436.9 613.8,424.2 614.3,449.8 614.8,412.9 615.3,350.8 615.8,380.7 616.3,446.3 616.8,443.5 617.3,436.1 617.8,396.0 618.3,453.4 618.8,454.2 619.3,410.7 619.8,414.2 620.3,455.1 620.8,472.5 621.3,481.2 621.8,458.7 622.3,490.9 622.8,408.9 623.3,447.0 623.8,411.2 624.3,369.2 624.8,383.4 625.3,447.1 625.8,389.9 626.3,382.9 626.8,441.8 627.3,451.3 627.8,436.7 628.3,476.4 628.8,395.5 629.3,503.8 629.8,477.1 630.3,460.6 630.8,462.0 631.3,452.4 631.8,450.6 632.3,468.2 632.8,425.7 633.3,516.4 633.8,466.3 634.3,480.5 634.8,454.6 635.3,445.3 635.8,468.0 636.3,454.7 636.8,404.9 637.3,414.2 637.8,438.6 638.3,359.8 638.8,352.5 639.3,449.1 639.8,402.1 640.3,344.9 640.8,382.9 641.3,401.1 641.8,415.9 642.3,427.4 642.8,425.7 643.3,441.6 643.8,411.3 644.3,456.6 644.8,466.3 645.3,490.3 645.8,467.6 646.3,488.9 646.8,471.8 647.3,428.6 647.8,449.1 648.3,442.0 648.8,446.3 649.3,457.5 649.8,463.9 650.3,470.2 650.8,438.6 651.3,493.5 651.8,422.9 652.3,466.3 652.8,482.2 653.3,471.8 653.8,471.3 654.3,444.5 654.8,462.8 655.3,403.0 655.9,456.8 656.4,488.5 656.9,450.5 657.4,478.1 657.9,430.4 658.4,391.8 658.9,403.9 659.4,458.9 659.9,447.1 660.4,377.0 660.9,423.6 661.4,439.0 661.9,406.0 662.4,373.0 662.9,401.6 663.4,439.0 663.9,428.9 664.4,416.6 664.9,450.1 665.4,457.2 665.9,428.6 666.4,452.1 666.9,432.4 667.4,429.5 667.9,368.8 668.4,460.4 668.9,447.3 669.4,451.0 669.9,432.2 670.4,412.3 670.9,458.8 671.4,463.9 671.9,480.0 672.4,460.5 672.9,416.4 673.4,431.8 673.9,454.9 674.4,437.9 674.9,426.1 675.4,407.1 675.9,439.0 676.4,431.8 676.9,470.2 677.4,456.9 677.9,379.7 678.4,479.6 678.9,431.9 679.4,410.3 679.9,423.2 680.4,432.0 680.9,416.2 681.4,419.4 681.9,426.3 682.4,473.0 682.9,438.0 683.4,459.5 683.9,457.5 684.4,441.1 684.9,430.5 685.4,425.3 685.9,471.2 686.4,428.1 686.9,420.9 687.4,422.5 687.9,415.5 688.4,465.5 688.9,464.5 689.4,427.8 689.9,485.0 690.4,439.8 690.9,454.6 691.4,445.2 691.9,472.9 692.4,451.2 692.9,431.4 693.4,402.4 693.9,404.1 694.4,446.3 694.9,454.7 695.4,474.7 695.9,443.5 696.4,466.0 696.9,437.5 697.4,401.2 697.9,455.4 698.4,486.2 698.9,468.3 699.4,479.0 699.9,469.7 700.4,395.2 700.9,427.9 701.4,471.6 701.9,413.5 702.4,397.6 702.9,452.9 703.4,465.3 703.9,462.4 704.4,448.5 704.9,440.7 705.4,426.6 705.9,427.3 706.4,427.7 706.9,420.0 707.4,437.8 707.9,493.5 708.4,455.2 708.9,434.7 709.4,450.8 709.9,404.8 710.4,443.1 710.9,455.1 711.4,385.1 711.9,409.6 712.4,427.4 712.9,404.7 713.4,402.2 713.9,428.2 714.4,502.6 714.9,462.4 715.4,460.1 715.9,476.3 716.4,448.5 716.9,418.0 717.4,476.2 717.9,495.3 718.4,403.3 718.9,481.4 719.4,499.7 719.9,458.1 720.4,448.1 720.9,479.3 721.4,429.8 721.9,469.6 722.5,479.0 723.0,448.5 723.5,426.7 724.0,471.9 724.5,443.6 725.0,459.6 725.5,373.6 726.0,474.8 726.5,408.1 727.0,457.4 727.5,458.3 728.0,426.5 728.5,419.8 729.0,407.3 729.5,438.8 730.0,466.7 730.5,465.0 731.0,431.3 731.5,428.7 732.0,402.5 732.5,435.7 733.0,414.3 733.5,401.8 734.0,449.5 734.5,495.2 735.0,488.9 735.5,496.3 736.0,404.7 736.5,481.6 737.0,414.4 737.5,435.3 738.0,398.4 738.5,418.9 739.0,459.2 739.5,462.4 740.0,455.2 740.5,453.8 741.0,477.7 741.5,468.0 742.0,412.8 742.5,515.0 743.0,460.2 743.5,492.2 744.0,457.1 744.5,426.7 745.0,455.3 745.5,417.9 746.0,483.4 746.5,395.8 747.0,447.8 747.5,404.7 748.0,289.2 748.5,494.9 749.0,449.3 749.5,422.3 750.0,379.8 750.5,423.2 751.0,425.3 751.5,473.3 752.0,385.3 752.5,374.3 753.0,432.5 753.5,438.7 754.0,475.0 754.5,398.6 755.0,353.2 755.5,405.4 756.0,388.5 756.5,413.3 757.0,462.2 757.5,388.6 758.0,471.4 758.5,446.6 759.0,431.9 759.5,412.6 760.0,433.8 760.5,439.0 761.0,479.6 761.5,497.6 762.0,464.3 762.5,488.0 763.0,504.3 763.5,502.1 764.0,478.9 764.5,511.2 765.0,493.9 765.5,497.7 766.0,442.5 766.5,429.4 767.0,375.5 767.5,478.6 768.0,453.0 768.5,396.9 769.0,436.9 769.5,440.3 770.0,375.2 770.5,446.8 771.0,473.0 771.5,481.8 772.0,436.1 772.5,438.9 773.0,488.0 773.5,475.3 774.0,422.7 774.5,415.6 775.0,450.8 775.5,403.7 776.0,403.0 776.5,473.1 777.0,435.9 777.5,414.4 778.0,452.7 778.5,500.0 779.0,456.4 779.5,422.9 780.0,399.1 780.5,516.1 781.0,375.0 781.5,487.4 782.0,419.1 782.5,409.2 783.0,416.6 783.5,447.6 784.0,484.2 784.5,427.0 785.0,471.5 785.5,519.7 786.0,366.6 786.5,426.2 787.0,392.7 787.5,481.6 788.0,403.5 788.5,399.1 789.1,398.4 789.6,452.7 790.1,481.3 790.6,451.3 791.1,503.0 791.6,488.8 792.1,439.7 792.6,471.2 793.1,451.4 793.6,452.5 794.1,385.7 794.6,405.8 795.1,457.7 795.6,412.2 796.1,480.4 796.6,469.8 797.1,425.7 797.6,495.8 798.1,471.0 798.6,498.6 799.1,457.6 799.6,402.1 800.1,478.8 800.6,446.2 801.1,476.9 801.6,480.7 802.1,480.2 802.6,391.8 803.1,366.5 803.6,418.7 804.1,454.9 804.6,406.0 805.1,443.0 805.6,404.0 806.1,426.2 806.6,431.3 807.1,423.4 807.6,468.7 808.1,469.0 808.6,509.0 809.1,479.1 809.6,507.9 810.1,475.6 810.6,497.5 811.1,466.7 811.6,450.8 812.1,506.4 812.6,489.1 813.1,491.4 813.6,433.8 814.1,399.4 814.6,421.7 815.1,458.6 815.6,388.9 816.1,474.0 816.6,373.9 817.1,439.0 817.6,493.1 818.1,343.5 818.6,368.7 819.1,455.4 819.6,425.8 820.1,444.1 820.6,439.0 821.1,294.9 821.6,470.7 822.1,437.1 822.6,450.8 823.1,417.7 823.6,462.2 824.1,388.2 824.6,485.6 825.1,454.2 825.6,514.3 826.1,494.6 826.6,409.5 827.1,482.3 827.6,433.5 828.1,455.6 828.6,480.4 829.1,460.7 829.6,464.1 830.1,462.9 830.6,420.1 831.1,425.1 831.6,469.3 832.1,481.1 832.6,448.4 833.1,466.1 833.6,425.3 834.1,381.4 834.6,433.8 835.1,468.4 835.6,471.6 836.1,489.3 836.6,490.2 837.1,492.6 837.6,476.3" stroke="#000" stroke-opacity="0.3" stroke-width="2.4"/>
<polyline points="88.0,447.5 89.0,442.5 90.0,435.7 90.7,429.5 92.0,422.5 93.0,413.8 94.3,406.0 95.0,422.0 96.0,447.1 96.7,464.6 98.0,435.3 99.0,411.7 99.7,396.1 101.0,411.7 102.4,431.3 104.0,431.1 105.1,427.7 106.0,431.3 107.0,432.7 107.8,433.1 109.0,437.1 110.5,440.3 112.0,451.4 113.2,461.9 114.0,450.7 115.0,437.0 116.0,424.5 117.0,412.1 118.0,400.0 119.0,388.0 120.0,396.8 121.0,405.8 122.2,418.7 123.0,413.8 124.0,409.0 125.0,405.8 126.2,401.5 127.0,406.4 128.0,413.9 129.5,421.4 131.0,420.1 132.2,416.0 133.0,418.4 134.0,421.3 135.0,423.3 136.0,424.5 137.6,427.7 139.0,413.9 140.0,406.8 141.2,398.8 142.0,398.9 143.0,399.6 144.0,399.0 144.8,397.9 146.0,423.7 147.5,449.3 149.0,443.3 150.0,434.5 151.1,422.3 152.0,431.1 152.9,434.0 154.0,430.3 155.0,424.6 156.5,418.7 158.0,427.3 159.0,436.1 160.0,445.8 161.0,454.7 162.0,445.2 163.0,436.2 164.0,430.2 165.0,425.4 165.9,419.6 167.0,434.4 168.2,447.5 169.0,443.9 170.0,437.2 171.0,430.5 171.8,426.8 173.0,431.0 174.5,436.7 176.0,437.0 177.0,434.9 178.1,431.3 179.0,435.7 180.0,438.7 181.0,444.3 181.7,448.4 183.0,434.4 184.0,423.6 185.0,413.2 186.2,400.6 187.0,399.4 188.0,398.2 189.0,396.5 189.8,395.2 191.0,405.2 192.5,417.8 194.0,418.6 195.0,419.7 196.1,424.1 197.0,426.0 198.0,430.1 199.0,435.0 200.0,440.3 200.7,443.9 202.0,432.6 203.0,424.0 204.0,414.8 205.0,405.9 206.6,389.8 208.0,410.4 209.0,421.4 209.7,429.5 211.0,435.1 212.0,440.7 213.0,446.0 214.0,449.2 215.1,452.0 216.0,447.4 217.0,442.5 218.0,436.8 218.7,433.1 220.0,418.3 221.0,409.5 222.0,401.4 223.5,384.4 225.0,421.0 226.0,443.2 226.8,462.8 228.0,449.8 229.0,441.6 230.0,434.1 231.3,422.3 232.0,417.3 233.0,410.3 234.0,405.3 234.9,399.7 236.0,417.5 237.0,432.9 238.0,448.3 239.0,463.7 240.0,458.8 241.0,452.6 242.0,446.7 243.0,443.7 243.9,442.1 245.0,433.8 246.0,428.1 247.0,423.5 248.0,418.8 249.0,413.0 250.0,406.2 251.1,397.9 252.0,403.7 253.0,409.1 254.0,415.5 255.0,422.0 256.5,431.3 258.0,423.3 259.0,418.2 260.0,413.5 261.4,409.7 262.0,414.6 263.0,423.5 264.0,431.7 265.5,445.7 267.0,444.2 268.0,445.6 269.0,445.9 270.0,443.9 271.0,446.7 272.0,448.0 273.0,446.1 273.6,445.7 274.5,454.7 276.0,438.1 277.0,428.9 278.0,423.0 279.0,416.9 280.0,428.5 281.0,442.0 281.7,452.9 283.0,450.8 284.4,447.5 285.0,444.8 286.0,440.2 287.0,435.4 288.0,429.5 289.0,425.0 290.0,419.1 291.3,408.8 292.0,417.9 293.0,429.7 294.0,440.4 295.0,451.4 296.1,463.7 297.0,461.5 298.0,457.9 299.0,453.4 300.0,449.8 301.5,449.3 303.0,459.6 304.0,467.8 305.1,476.3 306.0,472.5 307.0,468.6 308.0,463.8 308.8,460.1 310.0,465.5 311.5,473.6 313.0,462.8 314.0,455.8 315.0,449.2 316.5,437.6 318.0,452.7 319.0,459.3 319.6,463.7 321.0,458.3 322.0,454.6 323.2,448.4 324.0,456.2 325.0,462.8 326.0,456.8 327.0,449.9 328.0,444.8 329.1,439.4 330.0,448.9 331.0,459.3 332.0,467.7 332.7,473.6 334.0,460.1 335.0,449.5 336.0,438.1 337.1,424.1 338.0,432.5 339.0,441.0 339.9,449.3 341.0,434.7 342.0,421.1 343.5,406.0 345.0,420.4 346.0,431.2 347.5,451.1 349.0,453.7 350.0,459.3 351.1,463.7 352.0,463.7 353.0,461.5 354.0,459.7 354.7,460.1 356.0,449.9 357.4,440.3 358.0,446.5 359.0,457.6 360.0,464.1 361.0,468.2 362.0,464.4 363.0,457.6 364.0,451.1 365.0,446.2 366.0,442.4 367.0,437.9 368.2,429.5 369.0,426.6 370.0,422.0 371.0,419.0 372.0,414.9 372.7,410.6 374.0,423.0 375.0,430.8 376.3,443.9 377.0,437.5 378.0,429.8 379.0,424.1 380.0,435.4 381.0,445.5 382.0,455.1 382.7,462.8 384.0,452.9 385.0,446.0 386.3,432.2 387.0,440.9 388.1,451.1 389.0,441.5 390.0,430.4 390.8,422.3 392.0,429.1 393.0,434.9 394.0,439.1 395.3,443.9 396.0,439.9 397.0,433.3 398.0,428.2 398.9,424.1 400.0,416.3 401.0,408.3 401.6,402.4 403.0,419.7 404.0,428.6 405.2,440.3 406.0,423.3 407.0,403.9 407.9,386.2 409.0,392.7 410.0,397.2 411.0,401.0 412.4,406.0 413.0,414.8 414.0,430.0 415.0,439.7 415.6,445.7 417.0,424.7 418.0,408.4 419.0,395.8 419.6,388.9 421.0,403.6 422.0,418.5 423.2,433.1 424.0,428.7 425.0,422.0 426.0,414.6 427.0,407.0 427.7,401.5 429.0,414.6 430.4,427.7 431.0,423.5 432.2,416.9 433.0,424.7 434.0,434.8 434.9,442.1 436.0,438.0 437.0,433.5 438.0,428.1 439.4,420.5 440.0,426.0 441.0,435.0 442.1,448.4 443.0,410.6 443.9,376.3 445.0,377.1 446.0,378.9 447.5,384.4 449.0,385.6 450.0,385.3 451.0,382.8 452.0,381.5 453.0,374.5 454.0,367.7 455.0,362.0 455.6,358.5 457.5,372.0 459.0,415.3 460.1,447.5 461.0,434.8 462.0,422.3 463.0,407.8 463.7,397.0 465.0,403.6 466.0,406.6 467.3,411.5 468.0,416.3 469.0,422.2 470.0,429.1 470.9,438.5 472.0,421.1 473.3,406.0 474.0,416.9 475.0,433.1 476.0,448.4 477.2,465.5 478.0,459.5 479.0,451.9 480.0,443.0 481.0,433.8 482.0,423.1 482.6,416.9 484.0,414.5 485.0,413.1 486.2,413.3 487.0,407.6 488.0,400.7 489.0,397.1 489.9,393.4 491.0,401.8 492.0,408.1 492.6,411.5 494.0,434.6 495.3,458.3 496.0,449.4 497.0,437.6 498.0,428.6 499.0,448.9 499.8,465.5 501.0,463.0 502.0,459.5 503.4,454.7 504.0,456.3 505.0,458.2 506.1,458.3 507.0,454.0 508.0,450.2 509.0,445.6 510.0,436.9 510.6,431.3 512.0,436.1 513.3,439.4 514.0,436.9 515.0,434.3 516.0,434.0 517.0,434.7 518.0,436.6 519.0,438.9 519.6,440.3 521.0,430.1 522.0,424.6 523.2,416.0 524.0,425.1 525.0,435.8 526.0,446.4 526.8,454.7 528.0,449.0 529.0,443.3 530.0,437.9 531.3,433.1 532.0,434.2 533.0,437.5 534.0,442.1 535.0,433.6 536.0,425.1 536.7,418.7 538.0,436.2 539.4,454.7 540.0,444.2 541.0,426.6 541.8,411.5 543.0,422.8 544.0,431.5 545.0,442.4 545.7,449.3 547.0,439.2 548.0,430.5 549.3,420.5 550.0,422.7 551.0,424.5 552.0,427.6 552.9,433.1 554.0,426.2 555.0,423.2 556.2,424.1 557.0,430.3 558.0,441.0 559.0,453.8 560.0,464.9 561.0,474.5 562.0,461.6 563.0,448.6 564.0,437.5 565.0,426.7 566.5,407.0 568.0,424.1 569.0,433.9 570.1,445.7 571.0,445.4 572.0,445.4 573.0,446.5 574.0,448.3 574.6,449.3 576.4,458.3 577.0,452.6 578.0,442.2 579.1,431.3 580.0,445.7 581.0,462.9 581.8,476.3 583.0,470.0 584.0,464.5 585.4,452.9 586.0,455.2 587.0,457.2 588.0,458.9 589.0,461.9 590.0,454.9 591.0,448.8 592.0,440.0 592.6,434.9 594.0,441.7 595.0,447.9 596.2,456.5 597.0,456.2 598.0,455.6 599.0,452.6 600.0,449.3 601.0,448.0 601.6,447.5 603.0,447.1 604.0,446.3 605.2,443.9 606.0,454.0 607.0,466.7 607.9,478.1 609.0,464.9 610.0,452.5 611.0,438.7 612.4,418.7 613.0,418.8 614.0,419.4 615.0,419.1 616.0,416.9 617.0,426.0 618.0,433.0 619.0,439.5 620.5,451.1 622.0,441.8 623.0,436.4 624.0,430.1 625.0,422.1 625.9,415.1 627.0,425.1 628.0,435.2 629.5,451.1 631.0,461.1 632.0,465.8 633.0,468.8 634.1,470.9 635.0,459.1 636.0,444.6 637.0,430.3 637.7,420.5 639.0,417.3 640.0,413.9 641.0,409.9 642.1,406.0 643.0,422.4 644.0,440.3 645.0,459.2 645.7,472.7 647.0,465.1 648.0,461.2 649.3,456.5 650.0,460.2 651.0,465.1 652.0,473.6 653.0,463.7 654.0,457.9 655.0,447.0 655.6,438.5 657.0,438.8 658.0,432.3 659.2,424.1 660.0,431.1 661.0,438.4 662.0,444.0 662.8,449.3 664.0,442.8 665.0,437.5 666.4,425.9 667.0,430.4 668.0,437.3 669.0,446.1 670.0,452.9 671.0,448.9 672.0,442.3 673.0,434.9 673.7,431.3 675.0,426.1 676.4,422.3 677.0,427.2 678.2,438.5 679.0,423.3 680.0,405.1 681.0,414.5 682.0,423.7 683.0,434.4 684.0,445.8 685.4,460.1 686.0,460.4 687.0,460.0 688.0,461.7 689.0,463.7 690.0,452.3 691.0,440.5 692.0,429.4 692.6,423.2 694.0,437.7 695.0,449.3 696.2,465.5 697.0,458.8 698.0,450.4 699.0,444.1 700.0,438.9 701.0,434.5 701.6,431.3 703.0,444.4 704.0,455.4 705.0,466.4 706.1,476.3 707.0,466.6 708.0,454.1 709.0,443.8 710.0,435.5 710.6,429.5 712.0,435.4 713.0,439.5 714.0,443.2 715.1,445.7 716.0,453.5 717.0,461.2 718.0,468.7 718.7,474.5 720.0,466.8 721.0,461.6 722.3,454.7 723.0,456.0 724.0,458.0 725.0,458.1 725.9,458.3 727.0,457.3 728.0,455.1 729.0,452.0 730.0,452.4 731.0,451.9 732.2,451.1 733.0,452.3 734.0,453.9 735.0,458.4 735.8,461.9 737.0,457.4 738.0,455.1 739.4,454.7 740.0,457.1 741.0,460.1 742.0,467.8 743.0,476.3 744.0,465.9 745.0,455.2 746.0,443.3 747.0,431.2 747.6,424.1 749.0,429.7 750.0,434.1 751.2,438.5 752.0,439.1 753.0,437.5 753.9,431.3 755.0,435.2 756.0,435.6 757.0,436.2 758.4,438.5 759.0,442.5 760.0,448.4 761.0,456.7 762.0,466.7 762.9,474.5 764.0,467.6 765.0,459.9 766.0,450.8 767.0,441.9 768.0,434.6 769.2,425.9 770.0,434.0 771.0,443.2 772.0,451.3 772.8,458.3 774.0,444.6 775.0,432.2 776.4,418.7 777.0,423.9 778.0,432.5 779.0,445.9 780.0,460.1 781.0,459.4 782.0,459.2 783.0,455.8 784.0,451.9 785.4,451.1 786.0,452.4 787.0,455.5 788.1,460.1 789.0,454.0 790.0,447.0 791.0,443.2 791.7,440.3 793.0,447.7 794.0,452.7 795.3,458.3 796.0,459.4 797.0,460.7 798.0,463.2 798.9,465.5 800.0,459.6 801.0,455.5 802.0,450.3 803.0,444.4 804.0,438.3 805.2,429.5 806.0,438.6 807.0,448.3 808.0,456.5 809.0,466.3 809.7,474.5 811.0,471.1 812.0,470.6 813.0,468.5 814.2,463.7 815.0,452.9 816.0,439.4 817.5,411.5 819.0,428.4 820.0,437.5 821.5,452.9 823.0,462.7 824.0,470.0 825.0,464.7 826.0,461.6 827.0,458.6 827.9,454.0 829.0,452.0 830.0,449.6 830.8,448.0 832.0,457.0 833.0,464.0 833.8,468.7 835.0,470.8 836.0,469.1 837.0,465.7" stroke="#000" stroke-width="2.4"/></g><path d="M88.8 534.70h9M837.0 534.70h-9M88.8 468.38h9M837.0 468.38h-9M88.8 402.06h9M837.0 402.06h-9M88.8 335.74h9M837.0 335.74h-9M88.8 269.42h9M837.0 269.42h-9M88.8 203.10h9M837.0 203.10h-9M88.8 136.78h9M837.0 136.78h-9M88.8 70.46h9M837.0 70.46h-9M89.00 534.7v-9M89.00 37.3v9M239.12 534.7v-9M239.12 37.3v9M389.25 534.7v-9M389.25 37.3v9M539.38 534.7v-9M539.38 37.3v9M689.50 534.7v-9M689.50 37.3v9" stroke="#222" stroke-width="1.3" fill="none"/><rect x="88.8" y="37.3" width="748.20" height="497.40" fill="none" stroke="#111" stroke-width="2.2"/><text x="79.80" y="541.00" font-size="23" text-anchor="end" >1.0</text><text x="79.80" y="474.68" font-size="23" text-anchor="end" >1.2</text><text x="79.80" y="408.36" font-size="23" text-anchor="end" >1.4</text><text x="79.80" y="342.04" font-size="23" text-anchor="end" >1.6</text><text x="79.80" y="275.72" font-size="23" text-anchor="end" >1.8</text><text x="79.80" y="209.40" font-size="23" text-anchor="end" >2.0</text><text x="79.80" y="143.08" font-size="23" text-anchor="end" >2.2</text><text x="79.80" y="76.76" font-size="23" text-anchor="end" >2.4</text><text x="89.00" y="561.20" font-size="23" text-anchor="middle" >0</text><text x="239.12" y="561.20" font-size="23" text-anchor="middle" >30</text><text x="389.25" y="561.20" font-size="23" text-anchor="middle" >60</text><text x="539.38" y="561.20" font-size="23" text-anchor="middle" >90</text><text x="689.50" y="561.20" font-size="23" text-anchor="middle" >120</text><text x="462.50" y="596.60" font-size="22.6" text-anchor="middle" >Simulation Time (ns)</text><text transform="translate(27.6 285.0) rotate(-90)" font-size="21.6" text-anchor="middle">RMSD (<tspan font-family="'Liberation Serif', serif" font-style="italic" font-size="23">Å</tspan>)</text><text x="463.00" y="26.60" font-size="26.8" text-anchor="middle" >Substrate RMSD in the Intermediate State</text><rect x="623.4" y="50.2" width="200.6" height="97.6" fill="#fff" stroke="#111" stroke-width="2"/><path d="M641.1 72.9H680.8" stroke="#ff0000" stroke-width="2.6"/><path d="M641.1 118.3H680.8" stroke="#222" stroke-width="2.6"/><text x="708.5" y="82.3" font-size="26">P450<tspan font-size="18.5" dx="3.7" dy="5">BSβ</tspan></text><text x="709.2" y="127.2" font-size="26">OleT<tspan font-size="18.5" dx="3.5" dy="4.6">JE</tspan></text><g clip-path="url(#cr)"><polyline points="945.31,346.17 986.32,396.43 1027.33,343.87 1068.34,376.78 1109.36,334.70 1150.37,315.55 1191.38,323.41 1232.39,324.06 1273.40,328.16 1314.41,320.13 1355.42,319.15 1396.43,311.95 1437.44,291.97 1478.46,255.79 1519.47,182.76 1560.48,109.24" fill="none" stroke="#ff0000" stroke-opacity="0.62" stroke-width="2.3" stroke-linejoin="round"/><path d="M945.31 339.57L938.71 352.77L951.91 352.77ZM986.32 389.83L979.72 403.03L992.92 403.03ZM1027.33 337.27L1020.73 350.47L1033.93 350.47ZM1068.34 370.18L1061.74 383.38L1074.94 383.38ZM1109.36 328.10L1102.76 341.30L1115.96 341.30ZM1150.37 308.95L1143.77 322.15L1156.97 322.15ZM1191.38 316.81L1184.78 330.01L1197.98 330.01ZM1232.39 317.46L1225.79 330.66L1238.99 330.66ZM1273.40 321.56L1266.80 334.76L1280.00 334.76ZM1314.41 313.53L1307.81 326.73L1321.01 326.73ZM1355.42 312.55L1348.82 325.75L1362.02 325.75ZM1396.43 305.35L1389.83 318.55L1403.03 318.55ZM1437.44 285.37L1430.84 298.57L1444.04 298.57ZM1478.46 249.19L1471.86 262.39L1485.06 262.39ZM1519.47 176.16L1512.87 189.36L1526.07 189.36ZM1560.48 102.64L1553.88 115.84L1567.08 115.84Z" fill="#ff0000" fill-opacity="0.65" stroke="#000" stroke-opacity="0.6" stroke-width="1.2"/><polyline points="945.31,437.37 986.32,443.75 1027.33,427.87 1068.34,431.96 1109.36,397.41 1150.37,390.05 1191.38,382.51 1232.39,360.25 1273.40,353.37 1314.41,354.68 1355.42,355.33 1396.43,352.22 1437.44,343.22 1478.46,349.44 1519.47,354.84 1560.48,337.32" fill="none" stroke="#000" stroke-opacity="0.85" stroke-width="2.5" stroke-linejoin="round"/><path d="M945.31 430.77L938.71 443.97L951.91 443.97ZM986.32 437.15L979.72 450.35L992.92 450.35ZM1027.33 421.27L1020.73 434.47L1033.93 434.47ZM1068.34 425.36L1061.74 438.56L1074.94 438.56ZM1109.36 390.81L1102.76 404.01L1115.96 404.01ZM1150.37 383.45L1143.77 396.65L1156.97 396.65ZM1191.38 375.91L1184.78 389.11L1197.98 389.11ZM1232.39 353.65L1225.79 366.85L1238.99 366.85ZM1273.40 346.77L1266.80 359.97L1280.00 359.97ZM1314.41 348.08L1307.81 361.28L1321.01 361.28ZM1355.42 348.73L1348.82 361.93L1362.02 361.93ZM1396.43 345.62L1389.83 358.82L1403.03 358.82ZM1437.44 336.62L1430.84 349.82L1444.04 349.82ZM1478.46 342.84L1471.86 356.04L1485.06 356.04ZM1519.47 348.24L1512.87 361.44L1526.07 361.44ZM1560.48 330.72L1553.88 343.92L1567.08 343.92Z" fill="#000" fill-opacity="0.82" stroke="#000" stroke-opacity="0.85" stroke-width="1.2"/></g><path d="M904.3 362.87h8.5M1642.5 362.87h-8.5M904.3 199.13h8.5M1642.5 199.13h-8.5M945.31 526.6v-8.5M945.31 35.4v8.5M986.32 526.6v-8.5M986.32 35.4v8.5M1027.33 526.6v-8.5M1027.33 35.4v8.5M1068.34 526.6v-8.5M1068.34 35.4v8.5M1109.36 526.6v-8.5M1109.36 35.4v8.5M1150.37 526.6v-8.5M1150.37 35.4v8.5M1191.38 526.6v-8.5M1191.38 35.4v8.5M1232.39 526.6v-8.5M1232.39 35.4v8.5M1273.40 526.6v-8.5M1273.40 35.4v8.5M1314.41 526.6v-8.5M1314.41 35.4v8.5M1355.42 526.6v-8.5M1355.42 35.4v8.5M1396.43 526.6v-8.5M1396.43 35.4v8.5M1437.44 526.6v-8.5M1437.44 35.4v8.5M1478.46 526.6v-8.5M1478.46 35.4v8.5M1519.47 526.6v-8.5M1519.47 35.4v8.5M1560.48 526.6v-8.5M1560.48 35.4v8.5M1601.49 526.6v-8.5M1601.49 35.4v8.5" stroke="#222" stroke-width="1.3" fill="none"/><rect x="904.3" y="35.4" width="738.20" height="491.20" fill="none" stroke="#111" stroke-width="2.2"/><text x="895.50" y="369.17" font-size="22.5" text-anchor="end" >1</text><text x="895.50" y="205.43" font-size="22.5" text-anchor="end" >2</text><text x="895.50" y="41.70" font-size="22.5" text-anchor="end" >3</text><text transform="translate(944.31 550.30) rotate(-30)" font-size="20" text-anchor="middle" dominant-baseline="central">O1</text><text transform="translate(985.32 550.30) rotate(-30)" font-size="20" text-anchor="middle" dominant-baseline="central">O2</text><text transform="translate(1026.33 549.30) rotate(-30)" font-size="20" text-anchor="middle" dominant-baseline="central">C1</text><text transform="translate(1067.34 550.30) rotate(-30)" font-size="20" text-anchor="middle" dominant-baseline="central">C2</text><text transform="translate(1108.36 550.30) rotate(-30)" font-size="20" text-anchor="middle" dominant-baseline="central">C3</text><text transform="translate(1149.37 550.30) rotate(-30)" font-size="20" text-anchor="middle" dominant-baseline="central">C4</text><text transform="translate(1190.38 550.30) rotate(-30)" font-size="20" text-anchor="middle" dominant-baseline="central">C5</text><text transform="translate(1231.39 551.30) rotate(-30)" font-size="20" text-anchor="middle" dominant-baseline="central">C6</text><text transform="translate(1272.40 551.30) rotate(-30)" font-size="20" text-anchor="middle" dominant-baseline="central">C7</text><text transform="translate(1313.41 550.30) rotate(-30)" font-size="20" text-anchor="middle" dominant-baseline="central">C8</text><text transform="translate(1354.42 550.30) rotate(-30)" font-size="20" text-anchor="middle" dominant-baseline="central">C9</text><text transform="translate(1395.43 553.30) rotate(-30)" font-size="20" text-anchor="middle" dominant-baseline="central">C10</text><text transform="translate(1436.44 553.30) rotate(-30)" font-size="20" text-anchor="middle" dominant-baseline="central">C11</text><text transform="translate(1477.46 553.30) rotate(-30)" font-size="20" text-anchor="middle" dominant-baseline="central">C12</text><text transform="translate(1518.47 553.30) rotate(-30)" font-size="20" text-anchor="middle" dominant-baseline="central">C13</text><text transform="translate(1559.48 554.30) rotate(-30)" font-size="20" text-anchor="middle" dominant-baseline="central">C14</text><text x="1273.50" y="600.00" font-size="22.3" text-anchor="middle" >Substrate Heavy Atoms</text><text transform="translate(865.6 280.5) rotate(-90)" font-size="22.3" text-anchor="middle">RMSF (<tspan font-family="'Liberation Serif', serif" font-style="italic" font-size="23.5">Å</tspan>)</text><text x="1273.80" y="24.40" font-size="26.5" text-anchor="middle" >RMSF of C atoms in C14 Substrate</text><rect x="917.2" y="48.3" width="197.3" height="95.0" fill="#fff" stroke="#111" stroke-width="2"/><path d="M935.9 70.2H973.3" stroke="#ff0000" stroke-opacity="0.62" stroke-width="2.1"/><path d="M935.90 63.90L929.30 77.10L942.50 77.10ZM973.30 63.90L966.70 77.10L979.90 77.10Z" fill="#ff0000" fill-opacity="0.65" stroke="#000" stroke-opacity="0.6" stroke-width="1.2"/><path d="M935.9 113.5H973.3" stroke="#000" stroke-opacity="0.85" stroke-width="2.2"/><path d="M935.90 107.40L929.30 120.60L942.50 120.60ZM973.30 107.40L966.70 120.60L979.90 120.60Z" fill="#000" fill-opacity="0.82" stroke="#000" stroke-opacity="0.85" stroke-width="1.2"/><text x="1001.3" y="79.3" font-size="26">P450<tspan font-size="18.5" dx="2.7" dy="5">BSβ</tspan></text><text x="1001.6" y="122.6" font-size="26">OleT<tspan font-size="18.5" dx="2.4" dy="4.7">JE</tspan></text></svg></body></html>
